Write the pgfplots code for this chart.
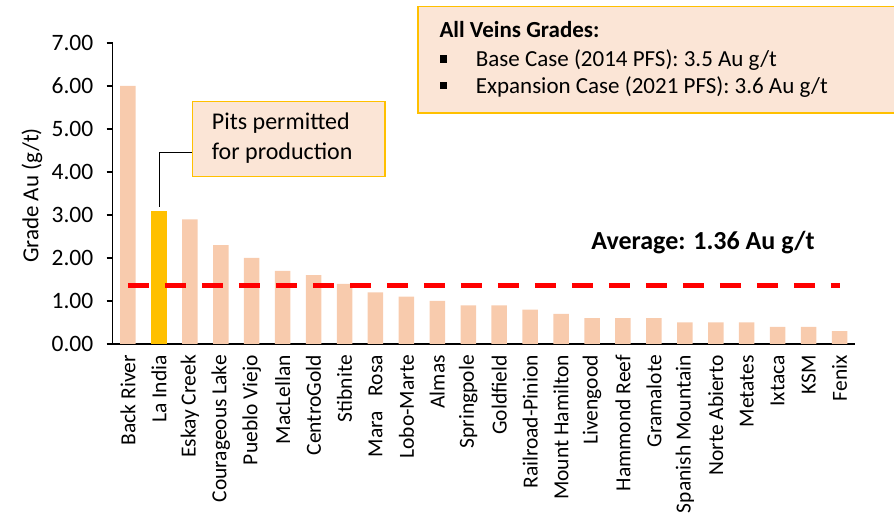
\documentclass[border=0pt]{standalone}
\usepackage{fontspec}
\setmainfont{Carlito}
\usepackage{pgfplots}
\pgfplotsset{compat=1.18}
\definecolor{peach}{HTML}{F8CBAD}
\definecolor{gold}{HTML}{FFC000}
\definecolor{boxfill}{HTML}{FBE5D6}
\begin{document}
\begin{tikzpicture}[x=1pt,y=1pt]
\useasboundingbox (0,0) rectangle (894,516);
\begin{axis}[
  at={(112.5pt,172pt)}, anchor=south west,
  scale only axis, width=742.5pt, height=301pt,
  xmin=-0.5, xmax=23.5, ymin=0, ymax=7,
  axis x line*=bottom, axis y line*=left,
  axis line style={black, line width=1.2pt},
  tick align=outside,
  ytick={0,1,...,7},
  yticklabel style={font=\fontsize{23.5}{27}\selectfont, inner sep=0pt, xshift=-13pt,
    /pgf/number format/.cd, fixed, fixed zerofill, precision=2, assume math mode=true},
  major tick length=6pt,
  tick style={black, line width=1.2pt},
  xtick={0,1,...,23},
  x tick style={draw=none},
  minor xtick={-0.5,0.5,...,23.5},
  minor tick length=6pt,
  minor x tick style={black, line width=1.2pt},
  xticklabels={Back River, La India, Eskay Creek, Courageous Lake, Pueblo Viejo, MacLellan, CentroGold, Stibnite, {Mara\ \ \ Rosa}, Lobo-Marte, Almas, Springpole, Goldfield, Railroad-Pinion, Mount Hamilton, Livengood, Hammond Reef, Gramalote, Spanish Mountain, Norte Abierto, Metates, Ixtaca, KSM, Fenix},
  xticklabel style={rotate=90, anchor=east, inner sep=0pt, xshift=-5pt, font=\fontsize{21.5}{25}\selectfont},
  clip=false,
]
\addplot[ybar, bar shift=0pt, bar width=0.5, fill=peach, draw=none] coordinates {
(0,6.0) (2,2.9) (3,2.3) (4,2.0) (5,1.7) (6,1.6) (7,1.4) (8,1.2) (9,1.1) (10,1.0) (11,0.9) (12,0.9) (13,0.8) (14,0.7) (15,0.6) (16,0.6) (17,0.6) (18,0.5) (19,0.5) (20,0.5) (21,0.4) (22,0.4) (23,0.3)};
\addplot[ybar, bar shift=0pt, bar width=0.5, fill=gold, draw=none] coordinates {(1,3.1)};
\addplot[red, line width=5pt, dash pattern=on 21pt off 16pt] coordinates {(0,1.36) (23,1.36)};
\end{axis}
% y label
\node[rotate=90, font=\fontsize{23}{27}\selectfont] at (32,320.5) {Grade Au (g/t)};
% average label
\node[font=\fontsize{26}{30}\selectfont\bfseries] at (703,273) {Average: 1.36 Au g/t};
% callout
\draw[black, line width=1.2pt] (192.3,363.7) -- (159.7,363.7) -- (159.7,309.3);
\draw[gold, line width=1.5pt, fill=boxfill] (192.3,339.3) rectangle (385,414.3);
\node[anchor=base west, inner sep=0pt, font=\fontsize{24}{28}\selectfont] at (211.7,386) {Pits permitted};
\node[anchor=base west, inner sep=0pt, font=\fontsize{24}{28}\selectfont] at (211.7,356.7) {for production};
% legend box
\draw[gold, line width=1.5pt, fill=boxfill] (418,403) rectangle (910,509.3);
\node[anchor=base west, inner sep=0pt, font=\fontsize{23}{27}\selectfont\bfseries] at (439.3,478.7) {All Veins Grades:};
\fill[black] (440,453.3) rectangle (447.3,461);
\fill[black] (440,426.7) rectangle (447.3,434.3);
\node[anchor=base west, inner sep=0pt, font=\fontsize{23}{27}\selectfont] at (475.7,449.3) {Base Case (2014 PFS): 3.5 Au g/t};
\node[anchor=base west, inner sep=0pt, font=\fontsize{23}{27}\selectfont] at (475.7,422.7) {Expansion Case (2021 PFS): 3.6 Au g/t};
\end{tikzpicture}
\end{document}
